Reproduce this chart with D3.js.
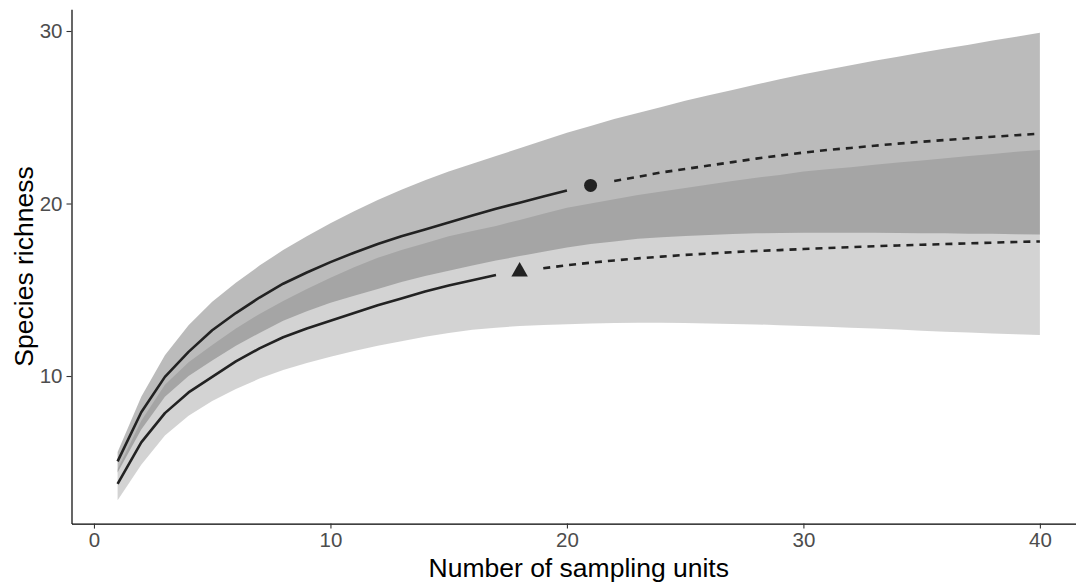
<!DOCTYPE html>
<html>
<head>
<meta charset="utf-8">
<script src="https://cdn.jsdelivr.net/npm/d3@7"></script>
<style>
  html, body { margin: 0; padding: 0; background: #fff; }
  svg { display: block; font-family: "Liberation Sans", Arial, sans-serif; }
</style>
</head>
<body>
<svg id="chart" width="1076" height="585"></svg>
<script>
// ---- data ----
const samplingUnits = [1,2,3,4,5,6,7,8,9,10,11,12,13,14,15,16,17,18,19,20,
  21,22,23,24,25,26,27,28,29,30,31,32,33,34,35,36,37,38,39,40];

// Assemblage A (upper curve, circle)
const upperEst = [5.05,7.9,9.95,11.4,12.65,13.65,14.55,15.35,16.0,16.6,17.15,17.65,18.1,18.5,18.9,19.3,19.7,20.05,20.4,20.75,
  21.05,21.3,21.55,21.8,22.0,22.2,22.4,22.6,22.78,22.95,23.1,23.22,23.35,23.47,23.58,23.68,23.78,23.87,23.96,24.05];
const upperHi = [5.6,8.8,11.2,12.95,14.3,15.4,16.4,17.3,18.1,18.85,19.55,20.2,20.8,21.35,21.85,22.3,22.75,23.2,23.65,24.1,
  24.5,24.9,25.25,25.6,25.95,26.27,26.58,26.9,27.2,27.5,27.76,28.02,28.27,28.51,28.75,28.98,29.2,29.45,29.67,29.9];
const upperLo = [4.4,6.9,8.8,10.0,10.9,11.75,12.5,13.2,13.75,14.25,14.65,15.05,15.45,15.8,16.1,16.4,16.7,16.95,17.2,17.45,
  17.65,17.8,17.95,18.05,18.12,18.18,18.23,18.27,18.29,18.3,18.3,18.3,18.3,18.29,18.28,18.27,18.25,18.24,18.22,18.21];

// Assemblage B (lower curve, triangle)
const lowerEst = [3.75,6.15,7.85,9.05,9.95,10.85,11.6,12.25,12.75,13.2,13.65,14.1,14.5,14.9,15.25,15.55,15.85,16.05,16.25,16.42,
  16.57,16.7,16.82,16.92,17.02,17.1,17.18,17.25,17.3,17.36,17.42,17.47,17.52,17.57,17.61,17.65,17.69,17.73,17.77,17.8];
const lowerHi = [4.6,7.4,9.5,10.8,11.8,12.75,13.6,14.35,15.05,15.7,16.3,16.85,17.3,17.7,18.1,18.4,18.7,19.05,19.4,19.75,
  20.0,20.25,20.5,20.7,20.9,21.1,21.3,21.5,21.65,21.85,21.98,22.1,22.25,22.38,22.5,22.62,22.75,22.87,23.0,23.1];
const lowerLo = [2.8,4.85,6.55,7.7,8.55,9.25,9.85,10.35,10.75,11.12,11.45,11.75,12.02,12.27,12.5,12.68,12.8,12.9,12.96,13.0,
  13.04,13.07,13.09,13.09,13.07,13.05,13.02,12.99,12.95,12.9,12.85,12.8,12.75,12.69,12.63,12.57,12.52,12.47,12.42,12.38];

// observed reference samples
const observedUnits = [21, 18];
const observedRichness = [21.05, 16.05];

const xTicks = [0, 10, 20, 30, 40];
const yTicks = [10, 20, 30];
const xTitle = "Number of sampling units";
const yTitle = "Species richness";

// ---- layout ----
const svg = d3.select("#chart");
const panel = { left: 71.5, right: 1086, top: 9.35, bottom: 523.6 };

const xMin = d3.min(samplingUnits), xMax = d3.max(samplingUnits);
const xPad = (xMax - xMin) * 0.05;
const allY = lowerLo.concat(upperHi);
const yMin = d3.min(allY), yMax = d3.max(allY);
const yPad = (yMax - yMin) * 0.05;

const x = d3.scaleLinear().domain([xMin - xPad, xMax + xPad]).range([panel.left, panel.right]);
const y = d3.scaleLinear().domain([yMin - yPad, yMax + yPad]).range([panel.bottom, panel.top]);

function rows(est, lo, hi) {
  return samplingUnits.map((u, i) => ({ u, est: est[i], lo: lo[i], hi: hi[i] }));
}
const groups = [
  { name: "B", data: rows(lowerEst, lowerLo, lowerHi), fill: "rgb(167,167,167)", T: observedUnits[1], S: observedRichness[1], shape: "triangle" },
  { name: "A", data: rows(upperEst, upperLo, upperHi), fill: "rgb(119,119,119)", T: observedUnits[0], S: observedRichness[0], shape: "circle" }
];

const area = d3.area().x(d => x(d.u)).y0(d => y(d.lo)).y1(d => y(d.hi));
const line = d3.line().x(d => x(d.u)).y(d => y(d.est));

const gRib = svg.append("g");
groups.forEach(g => {
  gRib.append("path").datum(g.data).attr("d", area)
    .attr("fill", g.fill).attr("fill-opacity", 0.5);
});

const gLines = svg.append("g");
groups.forEach(g => {
  gLines.append("path").datum(g.data.filter(d => d.u <= g.T - 1)).attr("d", line)
    .attr("fill", "none").attr("stroke", "#222").attr("stroke-width", 2.6)
    .attr("stroke-linejoin", "round");
  gLines.append("path").datum(g.data.filter(d => d.u >= g.T + 1)).attr("d", line)
    .attr("fill", "none").attr("stroke", "#222").attr("stroke-width", 2.6)
    .attr("stroke-dasharray", "7,6");
});

groups.forEach(g => {
  if (g.shape === "circle") {
    svg.append("circle").attr("cx", x(g.T)).attr("cy", y(g.S)).attr("r", 6.5).attr("fill", "#222");
  } else {
    svg.append("path").attr("d", d3.symbol().type(d3.symbolTriangle).size(118)())
      .attr("transform", `translate(${x(g.T)},${y(g.S)})`).attr("fill", "#222");
  }
});

// ---- axes ----
const xAxis = svg.append("g").attr("transform", `translate(0,${panel.bottom})`)
  .call(d3.axisBottom(x).tickValues(xTicks).tickSize(5).tickPadding(4).tickSizeOuter(0));
const yAxis = svg.append("g").attr("transform", `translate(${panel.left},0)`)
  .call(d3.axisLeft(y).tickValues(yTicks).tickSize(5).tickPadding(4).tickSizeOuter(0));

[xAxis, yAxis].forEach(a => {
  a.select(".domain").attr("stroke", "#000").attr("stroke-width", 1.2);
  a.selectAll(".tick line").attr("stroke", "#333").attr("stroke-width", 1.1);
  a.selectAll(".tick text").attr("fill", "#4d4d4d").style("font-size", "20.5px")
    .style("font-family", "'Liberation Sans', Arial, sans-serif");
});

svg.append("text").attr("x", (panel.left + panel.right) / 2).attr("y", 577)
  .attr("text-anchor", "middle").style("font-size", "26.5px").attr("fill", "#000").text(xTitle);

svg.append("text").attr("transform", `translate(33,${(panel.top + panel.bottom) / 2}) rotate(-90)`)
  .attr("text-anchor", "middle").style("font-size", "26.5px").attr("fill", "#000").text(yTitle);
</script>
</body>
</html>
